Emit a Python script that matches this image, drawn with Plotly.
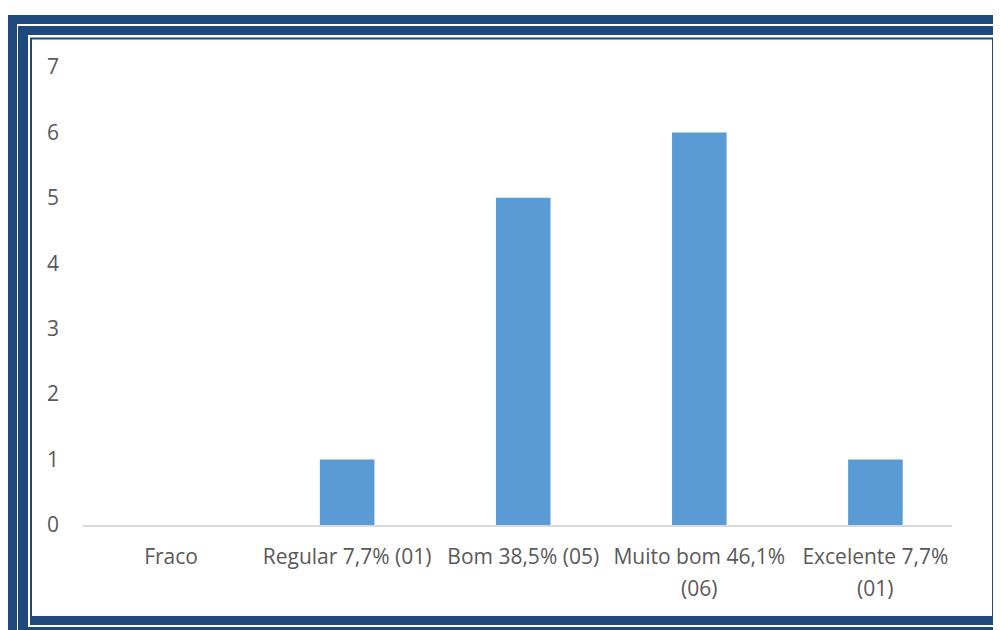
import plotly.graph_objects as go

categories = ["Fraco", "Regular 7,7% (01)", "Bom 38,5% (05)", "Muito bom 46,1% (06)", "Excelente 7,7% (01)"]
label_line1 = ["Fraco", "Regular 7,7% (01)", "Bom 38,5% (05)", "Muito bom 46,1%", "Excelente 7,7%"]
label_line2 = ["", "", "", "(06)", "(01)"]
values = [0, 1, 5, 6, 1]
y_ticks = [0, 1, 2, 3, 4, 5, 6, 7]

W, H = 1001, 630
OFF = 8  # page body margin offset
L, R, T, B = 83 - OFF, 952 - OFF, 67 - OFF, 525 - OFF  # plot area in figure pixels
BLUE = "#1F497D"
BAR = "#5B9BD5"
TXT = "#595959"
FONT = "Open Sans"
FS = 21


def xp(px):
    return (px - OFF - L) / (R - L)


def yp(py):
    return (B - (py - OFF)) / (B - T)


fig = go.Figure()
fig.add_trace(go.Bar(
    x=categories, y=values,
    marker=dict(color=BAR, line=dict(width=0)),
    width=0.31,
    hoverinfo="x+y",
))

shapes = []
rects = [
    (8, 15, 1030, 660, BLUE),
    (17, 24, 1030, 660, "white"),
    (18, 26, 1030, 660, BLUE),
    (28, 35, 1030, 627, "white"),
    (30, 37.5, 1001, 625, BLUE),
    (32, 39.5, 992, 616, "white"),
]
for x0, y0, x1, y1, c in rects:
    shapes.append(dict(type="rect", xref="paper", yref="paper",
                       x0=xp(x0), x1=xp(x1), y0=yp(y0), y1=yp(y1),
                       fillcolor=c, line=dict(width=0), layer="below"))

annotations = []
for cat, l2 in zip(categories, label_line2):
    if l2:
        annotations.append(dict(x=cat, xref="x", y=yp(588), yref="paper",
                                text=l2, showarrow=False, yanchor="middle",
                                font=dict(family=FONT, size=FS, color=TXT)))

fig.update_layout(
    width=W, height=H,
    margin=dict(l=L, r=W - R, t=T, b=H - B, pad=0),
    paper_bgcolor="white",
    plot_bgcolor="rgba(0,0,0,0)",
    showlegend=False,
    shapes=shapes,
    annotations=annotations,
    font=dict(family=FONT, size=FS, color=TXT),
    xaxis=dict(
        type="category",
        categoryorder="array", categoryarray=categories,
        range=[-0.5, 4.435],
        tickmode="array", tickvals=categories, ticktext=label_line1,
        showgrid=False, zeroline=False,
        showline=True, linecolor="#D9D9D9", linewidth=1.5,
        ticks="", ticklabelstandoff=12,
        tickfont=dict(family=FONT, size=FS, color=TXT),
    ),
    yaxis=dict(
        range=[0, 7],
        tickmode="array", tickvals=y_ticks,
        showgrid=False, zeroline=False, showline=False,
        ticks="", ticklabelstandoff=23,
        tickfont=dict(family=FONT, size=FS, color=TXT),
    ),
)

fig.write_html("out.html")
